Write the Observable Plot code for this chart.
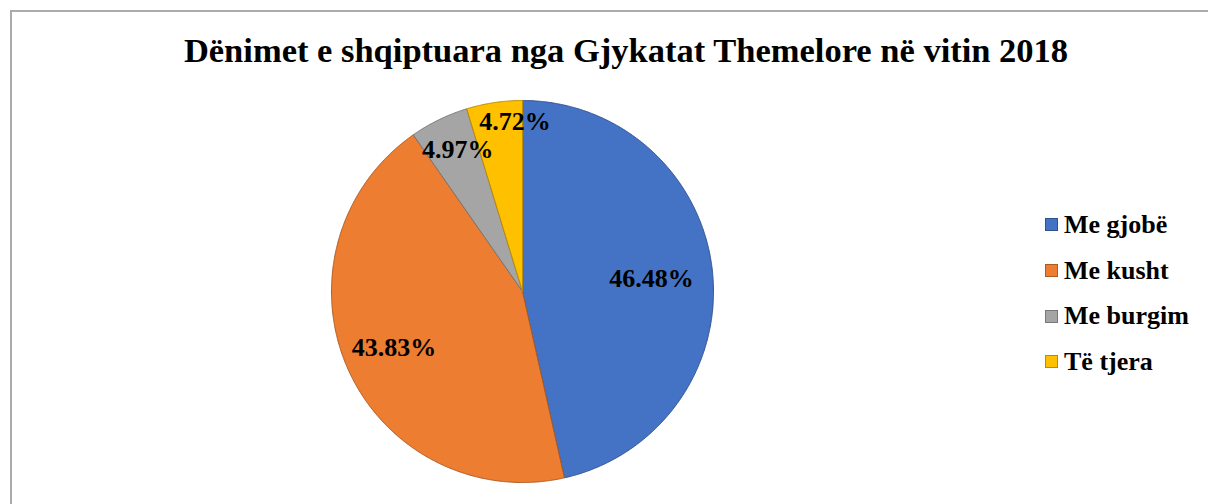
<!DOCTYPE html>
<html><head><meta charset="utf-8">
<script src="https://cdn.jsdelivr.net/npm/d3@7"></script>
<script src="https://cdn.jsdelivr.net/npm/@observablehq/plot@0.6"></script>
<style>
body{margin:0;background:#fff;}
#wrap{position:relative;width:1208px;height:504px;overflow:hidden;font-family:"Liberation Serif","Times New Roman",serif;}
#frame{position:absolute;left:10px;top:10px;width:1300px;height:600px;border-top:2px solid #ababab;border-left:2px solid #ababab;}
#title{position:absolute;left:0;width:1252px;top:33px;text-align:center;font-weight:bold;font-size:34.5px;line-height:1;color:#000;white-space:nowrap;}
#chart{position:absolute;left:0;top:0;}
#chart text{font-family:"Liberation Serif","Times New Roman",serif !important;}
#legend{position:absolute;left:1045px;top:202px;}
.item{display:flex;align-items:center;height:45.7px;font-weight:bold;font-size:26px;color:#000;white-space:nowrap;}
.sw{width:11px;height:11px;border:1px solid;margin-right:6px;flex:none;}
</style>
</head><body>
<div id="wrap">
  <div id="frame"></div>
  <div id="chart"></div>
  <div id="title"></div>
  <div id="legend"></div>
</div>
<script>
// ---- data ----
const chartTitle = "Dënimet e shqiptuara nga Gjykatat Themelore në vitin 2018";
const categories = ["Me gjobë", "Me kusht", "Me burgim", "Të tjera"];
const values = [46.48, 43.83, 4.97, 4.72];
const valueLabels = ["46.48%", "43.83%", "4.97%", "4.72%"];

// ---- styles / layout ----
const fills = ["#4472C4", "#ED7D31", "#A5A5A5", "#FFC000"];
const edges = ["#2F528F", "#AE5A21", "#787878", "#BC8C00"];
const labelRadius = [0.68, 0.73, 0.8, 0.9];
const labelDx = [0, -1, 2, 18];
const labelDy = [2, 0, -4, 0];
const FONT = "Liberation Serif, Times New Roman, serif";

const arcs = d3.pie().sort(null).value(d => d)(values);

const slicePts = [];
arcs.forEach((a, i) => {
  const n = Math.max(2, Math.ceil((a.endAngle - a.startAngle) / 0.005));
  slicePts.push({i, x: 0, y: 0});
  for (let k = 0; k <= n; k++) {
    const t = a.startAngle + (a.endAngle - a.startAngle) * k / n;
    slicePts.push({i, x: Math.sin(t), y: Math.cos(t)});
  }
  slicePts.push({i, x: 0, y: 0});
});

const labelPts = arcs.map((a, i) => {
  const m = (a.startAngle + a.endAngle) / 2;
  return {i, text: valueLabels[i], x: labelRadius[i] * Math.sin(m), y: labelRadius[i] * Math.cos(m)};
});

const chart = Plot.plot({
  width: 1208,
  height: 504,
  marginLeft: 331,
  marginRight: 495,
  marginTop: 100,
  marginBottom: 22,
  x: {domain: [-1, 1], axis: null},
  y: {domain: [-1, 1], axis: null},
  color: {type: "identity"},
  style: {background: "none", fontFamily: FONT},
  marks: [
    Plot.line(slicePts, {
      x: "x", y: "y", z: "i",
      fill: d => fills[d.i], stroke: d => edges[d.i],
      strokeWidth: 1, curve: "linear", strokeLinejoin: "round"
    }),
    ...labelPts.map(d => Plot.text([d], {
      x: "x", y: "y", text: "text",
      dx: labelDx[d.i], dy: labelDy[d.i],
      fontSize: 26, fontWeight: "bold", fill: "#000", fontFamily: FONT
    }))
  ]
});
document.getElementById("chart").appendChild(chart);
document.getElementById("title").textContent = chartTitle;

const leg = document.getElementById("legend");
categories.forEach((c, i) => {
  const row = document.createElement("div");
  row.className = "item";
  const sw = document.createElement("span");
  sw.className = "sw";
  sw.style.background = fills[i];
  sw.style.borderColor = edges[i];
  const tx = document.createElement("span");
  tx.textContent = c;
  row.appendChild(sw); row.appendChild(tx);
  leg.appendChild(row);
});
</script>
</body></html>
